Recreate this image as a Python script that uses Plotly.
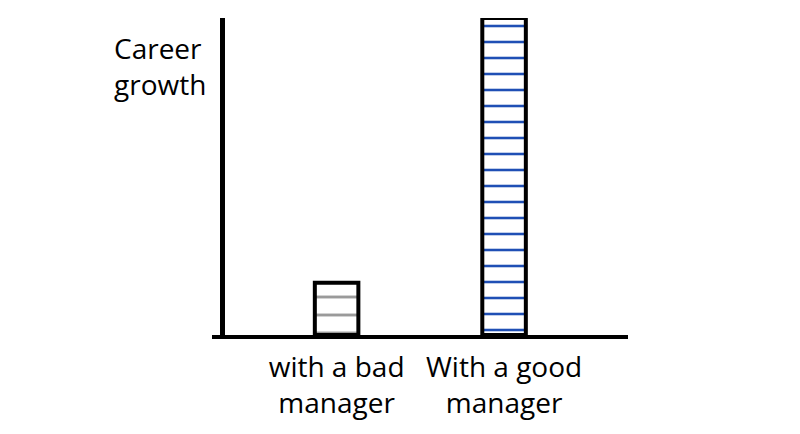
import plotly.graph_objects as go

categories = ["with a bad<br>manager", "With a good<br>manager"]
values = [1.65, 10.0]
bar_colors = ["#9a9a9a", "#1f4fb5"]
y_title = "Career<br>growth"

fig = go.Figure()
fig.add_trace(go.Bar(
    x=categories,
    y=values,
    width=0.26,
    marker=dict(
        color="white",
        line=dict(color="black", width=4),
        pattern=dict(shape="-", fgcolor=bar_colors, bgcolor="white",
                     size=[18, 16], solidity=0.16, fillmode="replace"),
    ),
))

fig.update_layout(
    width=800, height=434,
    margin=dict(l=0, r=0, t=10, b=107),
    plot_bgcolor="white", paper_bgcolor="white",
    showlegend=False,
    font=dict(family="Open Sans", size=28, color="black"),
    xaxis=dict(
        domain=[204/800, 620/800],
        range=[-0.744, 1.74],
        showline=True, linecolor="black", linewidth=4,
        showgrid=False, zeroline=False,
        ticks="", ticklabelstandoff=4,
        tickfont=dict(size=28),
    ),
    yaxis=dict(
        range=[0, 10],
        anchor="free", position=214/800,
        showline=True, linecolor="black", linewidth=5,
        showgrid=False, zeroline=False,
        showticklabels=False, ticks="",
    ),
    annotations=[dict(
        text=y_title, xref="paper", yref="paper",
        x=104/800, y=0.848, xanchor="left", yanchor="middle",
        align="left", showarrow=False, font=dict(size=28),
    )],
)

fig.write_html("out.html")
